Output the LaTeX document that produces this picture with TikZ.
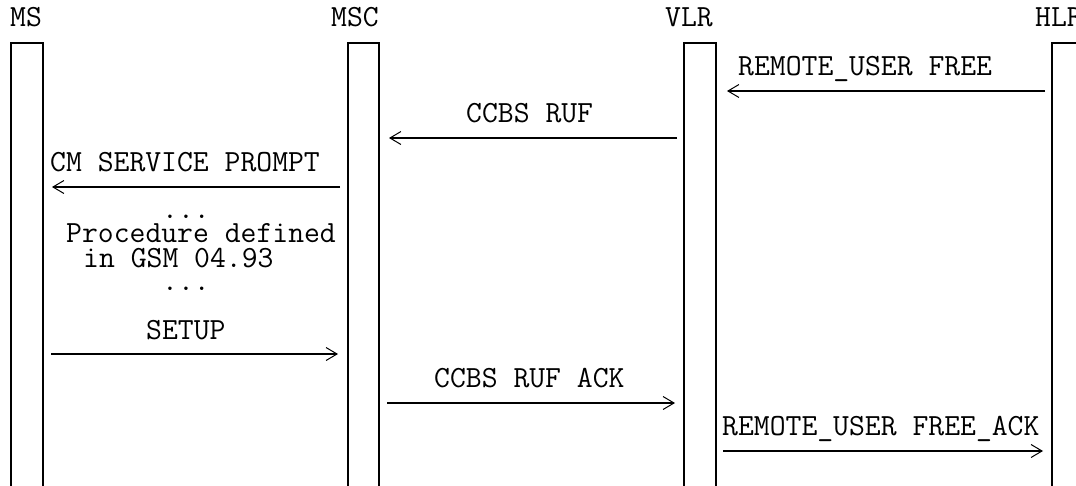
\documentclass[tikz,border=0pt]{standalone}
\usepackage{fontspec}
\usetikzlibrary{arrows.meta}
\tikzset{
    lifeline-box/.style = {draw=black, line width=1.6pt},
    msc-label/.style = {font=\ttfamily\fontsize{30.8}{34}\selectfont, inner sep=0pt, anchor=base west},
    msc-dots/.style = {msc-label, anchor=base},
    msg-arrow/.style = {line width=1.6pt, -{Straight Barb[length=11pt, width=13pt, line width=1pt]}},
}

\begin{document}
\begin{tikzpicture}[x=1pt, y=-1pt]
\clip (0,0) rectangle (1076,485);
% entity names
\node[msc-label] (ms-name) at (10,26) {MS};
\node[msc-label] (msc-name) at (331,26) {MSC};
\node[msc-label] (vlr-name) at (665,26) {VLR};
\node[msc-label] (hlr-name) at (1035,26) {HLR};
% lifelines, open at the bottom
\draw[lifeline-box] (11,495) |- (43,43) -- (43,495);
\draw[lifeline-box] (348,495) |- (379,43) -- (379,495);
\draw[lifeline-box] (684,495) |- (716,43) -- (716,495);
\draw[lifeline-box] (1052,495) |- (1095,43);
% message ends
\coordinate (hlr-free) at (1045,91);
\coordinate (vlr-free) at (727,91);
\coordinate (vlr-ruf) at (677,138);
\coordinate (msc-ruf) at (389,138);
\coordinate (msc-prompt) at (340,187);
\coordinate (ms-prompt) at (52,187);
\coordinate (ms-setup) at (51,354);
\coordinate (msc-setup) at (338,354);
\coordinate (msc-ack) at (387,403);
\coordinate (vlr-ack) at (675,403);
\coordinate (vlr-freeack) at (723,451);
\coordinate (hlr-freeack) at (1043,451);
% messages
\node[msc-label] (free-lbl) at (738,75) {REMOTE\_USER FREE};
\draw[msg-arrow] (hlr-free) -- (vlr-free);
\node[msc-label] (ruf-lbl) at (466,122) {CCBS RUF};
\draw[msg-arrow] (vlr-ruf) -- (msc-ruf);
\node[msc-label] (prompt-lbl) at (50,171) {CM SERVICE PROMPT};
\draw[msg-arrow] (msc-prompt) -- (ms-prompt);
\node[msc-dots] (dots-top) at (186,218) {...};
\node[msc-label] (proc-lbl) at (66,242) {Procedure defined};
\node[msc-label] (gsm-lbl) at (83,267) {in GSM 04.93};
\node[msc-dots] (dots-bot) at (186,290) {...};
\node[msc-label] (setup-lbl) at (146,339) {SETUP};
\draw[msg-arrow] (ms-setup) -- (msc-setup);
\node[msc-label] (ack-lbl) at (434,387) {CCBS RUF ACK};
\draw[msg-arrow] (msc-ack) -- (vlr-ack);
\node[msc-label] (freeack-lbl) at (722,435) {REMOTE\_USER FREE\_ACK};
\draw[msg-arrow] (vlr-freeack) -- (hlr-freeack);
\end{tikzpicture}
\end{document}
